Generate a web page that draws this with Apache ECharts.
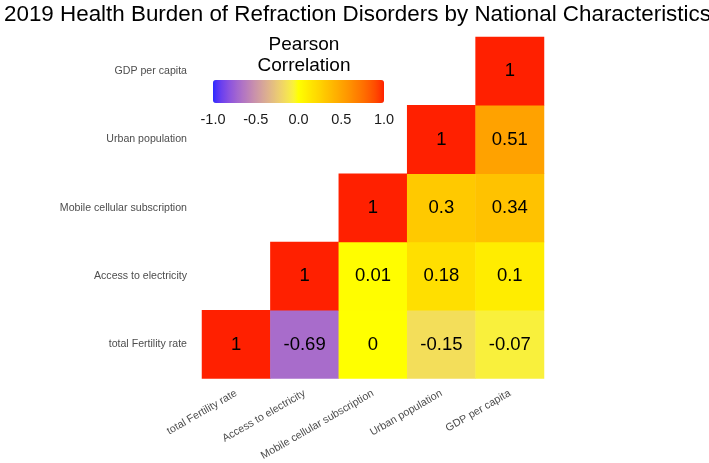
<!DOCTYPE html>
<html><head><meta charset="utf-8">
<script src="https://cdn.jsdelivr.net/npm/echarts@6/dist/echarts.min.js"></script>
<style>html,body{margin:0;padding:0;background:#fff}#c{width:709px;height:463px}</style>
</head><body><div id="c"></div>
<script>
const xCategories = ['total Fertility rate','Access to electricity','Mobile cellular subscription','Urban population','GDP per capita'];
const yCategories = ['total Fertility rate','Access to electricity','Mobile cellular subscription','Urban population','GDP per capita'];
// rows: y index, values by x index (null = empty)
const rowFertility = [1, -0.69, 0, -0.15, -0.07];
const rowAccess    = [null, 1, 0.01, 0.18, 0.1];
const rowMobile    = [null, null, 1, 0.3, 0.34];
const rowUrban     = [null, null, null, 1, 0.51];
const rowGDP       = [null, null, null, null, 1];
const legendTicks = [-1.0, -0.5, 0.0, 0.5, 1.0];

const rows = [rowFertility, rowAccess, rowMobile, rowUrban, rowGDP];
const data = [];
rows.forEach((r, yi) => r.forEach((v, xi) => { if (v !== null) data.push([xi, yi, v]); }));

// Lab interpolation helpers for colour scale
function hex2rgb(h){return [1,3,5].map(i=>parseInt(h.substr(i,2),16)/255);}
function lin(c){return c<=0.04045?c/12.92:Math.pow((c+0.055)/1.055,2.4);}
function gam(c){c=c<=0.0031308?12.92*c:1.055*Math.pow(c,1/2.4)-0.055;return Math.max(0,Math.min(255,Math.round(c*255)));}
function rgb2lab(rgb){const [r,g,b]=rgb.map(lin);
 let X=(0.4124*r+0.3576*g+0.1805*b)/0.95047,Y=(0.2126*r+0.7152*g+0.0722*b),Z=(0.0193*r+0.1192*g+0.9505*b)/1.08883;
 const f=t=>t>0.008856?Math.cbrt(t):7.787*t+16/116;
 const fx=f(X),fy=f(Y),fz=f(Z);return [116*fy-16,500*(fx-fy),200*(fy-fz)];}
function lab2hex(l){const fy=(l[0]+16)/116,fx=fy+l[1]/500,fz=fy-l[2]/200;
 const fi=t=>t*t*t>0.008856?t*t*t:(t-16/116)/7.787;
 const X=fi(fx)*0.95047,Y=fi(fy),Z=fi(fz)*1.08883;
 const r=3.2406*X-1.5372*Y-0.4986*Z,g=-0.9689*X+1.8758*Y+0.0415*Z,b=0.0557*X-0.2040*Y+1.0570*Z;
 return '#'+[r,g,b].map(gam).map(v=>v.toString(16).padStart(2,'0')).join('');}
function ramp(a,b,n){const A=rgb2lab(hex2rgb(a)),B=rgb2lab(hex2rgb(b));const out=[];
 for(let i=0;i<n;i++){const t=i/(n-1);out.push(lab2hex(A.map((v,k)=>v+(B[k]-v)*t)));}return out;}
const colors = ramp('#2a2aff','#ffff00',21).concat(ramp('#ffff00','#ff2000',21).slice(1));

const chart = echarts.init(document.getElementById('c'));
chart.setOption({
  animation:false,
  title:[
    {text:'2019 Health Burden of Refraction Disorders by National Characteristics',left:-1,top:-1,
     textStyle:{fontFamily:'Liberation Sans',fontSize:22.4,fontWeight:'normal',color:'#000'}},
    {text:'Pearson\nCorrelation',left:299,top:29,textAlign:'center',
     textStyle:{fontFamily:'Liberation Sans',fontSize:19,fontWeight:'normal',color:'#000',lineHeight:21}}
  ],
  grid:[
    {left:202,top:37,width:342,height:342},
    {left:213,top:80,width:171,height:23}
  ],
  xAxis:[
    {type:'category',data:xCategories,gridIndex:0,axisLine:{show:false},axisTick:{show:false},splitLine:{show:false},
     axisLabel:{rotate:30,margin:14,fontFamily:'Liberation Sans',fontSize:10.7,color:'#4d4d4d',interval:0}},
    {type:'value',gridIndex:1,min:-1,max:1,interval:0.5,axisLine:{show:false},splitLine:{show:false},
     axisTick:{show:true,inside:true,length:4,lineStyle:{color:'#ffffff',width:1}},
     axisLabel:{margin:9,fontFamily:'Liberation Sans',fontSize:14.5,color:'#1a1a1a',formatter:v=>v.toFixed(1)}}
  ],
  yAxis:[
    {type:'category',data:yCategories,gridIndex:0,axisLine:{show:false},axisTick:{show:false},splitLine:{show:false},
     axisLabel:{margin:15,fontFamily:'Liberation Sans',fontSize:10.6,color:'#4d4d4d'}},
    {type:'value',gridIndex:1,show:false,min:0,max:1}
  ],
  visualMap:{type:'continuous',min:-1,max:1,orient:'horizontal',left:213,top:80,itemWidth:23,itemHeight:171,
    padding:0,calculable:false,seriesIndex:0,inRange:{color:colors},text:null,showLabel:false},
  series:[{type:'heatmap',xAxisIndex:0,yAxisIndex:0,data:data,
    label:{show:true,fontFamily:'Liberation Sans',fontSize:18.5,color:'#000',formatter:p=>String(p.value[2])},
    itemStyle:{borderWidth:0},emphasis:{disabled:true}}]
});
</script></body></html>
